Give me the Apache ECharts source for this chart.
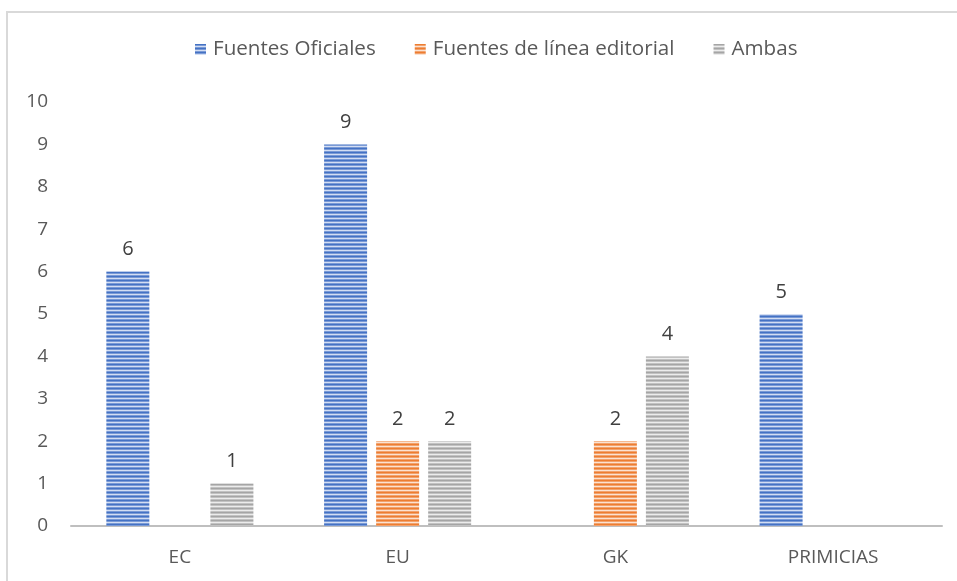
<!DOCTYPE html>
<html>
<head>
<meta charset="utf-8">
<script src="https://cdn.jsdelivr.net/npm/echarts@6/dist/echarts.min.js"></script>
<style>
html,body{margin:0;padding:0;background:#fff;}
#ChartMain{width:957px;height:581px;}
</style>
</head>
<body>
<div id="ChartMain"></div>
<script>
var categories = ['EC', 'EU', 'GK', 'PRIMICIAS'];
var oficiales = [6, 9, null, 5];
var editorial = [null, 2, 2, null];
var ambas = [1, 2, 4, null];
var yTicks = [0, 1, 2, 3, 4, 5, 6, 7, 8, 9, 10];

// rayas horizontales como en el original
function stripes(dark, mid, light) {
    var c = document.createElement('canvas');
    c.width = 4; c.height = 4;
    var ctx = c.getContext('2d');
    var rows = [dark, mid, light, mid];
    for (var i = 0; i < 4; i++) {
        ctx.fillStyle = rows[i];
        ctx.fillRect(0, i, 4, 1);
    }
    return {image: c, repeat: 'repeat'};
}

var blue = stripes('#4472c4', '#7a9ad6', '#d3def3');
var orange = stripes('#ed7d31', '#f2a26d', '#fbe2d1');
var gray = stripes('#a5a5a5', '#c2c2c2', '#ececec');

function GenerateChart() {
    var chart = echarts.init(document.getElementById('ChartMain'));
    var labelStyle = {show: true, position: 'top', distance: 12, fontSize: 20, color: '#404040', fontFamily: 'Open Sans'};
    var option = {
        animation: false,
        textStyle: {fontFamily: 'Open Sans'},
        graphic: [{
            type: 'rect',
            shape: {x: 7, y: 12, width: 1000, height: 1000},
            style: {fill: 'none', stroke: '#d9d9d9', lineWidth: 2},
            silent: true
        }],
        legend: {
            top: 34,
            left: 190,
            icon: 'rect',
            itemWidth: 11,
            itemHeight: 11,
            itemGap: 39,
            textStyle: {fontSize: 20.6, color: '#595959', fontFamily: 'Open Sans', padding: [0, 0, 0, 2]},
            data: ['Fuentes Oficiales', 'Fuentes de línea editorial', 'Ambas']
        },
        grid: {left: 71, right: 15, top: 102, bottom: 55, containLabel: false},
        xAxis: {
            type: 'category',
            data: categories,
            axisLine: {lineStyle: {color: '#bfbfbf', width: 2}},
            axisTick: {show: false},
            axisLabel: {fontSize: 19, color: '#595959', margin: 22}
        },
        yAxis: {
            type: 'value',
            min: yTicks[0],
            max: yTicks[yTicks.length - 1],
            interval: 1,
            splitLine: {show: false},
            axisLine: {show: false},
            axisLabel: {fontSize: 19, color: '#595959', margin: 23}
        },
        series: [
            {name: 'Fuentes Oficiales', type: 'bar', data: oficiales, barWidth: 43, barGap: '21%',
             itemStyle: {color: blue}, label: labelStyle},
            {name: 'Fuentes de línea editorial', type: 'bar', data: editorial, barWidth: 43, barGap: '21%',
             itemStyle: {color: orange}, label: labelStyle},
            {name: 'Ambas', type: 'bar', data: ambas, barWidth: 43, barGap: '21%',
             itemStyle: {color: gray}, label: labelStyle}
        ]
    };
    chart.setOption(option);
}
GenerateChart();
</script>
</body>
</html>
